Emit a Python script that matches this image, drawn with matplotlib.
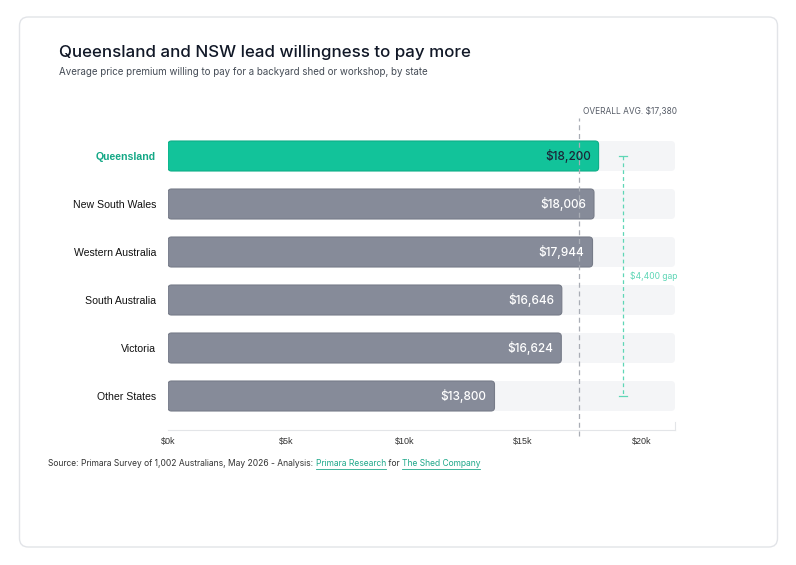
import matplotlib
matplotlib.use("Agg")
import matplotlib.pyplot as plt
from matplotlib.patches import FancyBboxPatch

plt.rcParams['font.family'] = ['Inter', 'DejaVu Sans']
ARIAL = ['Liberation Sans', 'DejaVu Sans']

states = ["Queensland", "New South Wales", "Western Australia", "South Australia", "Victoria", "Other States"]
values = [18200, 18006, 17944, 16646, 16624, 13800]
value_labels = ["$18,200", "$18,006", "$17,944", "$16,646", "$16,624", "$13,800"]
overall_avg = 17380
gap_label = "$4,400 gap"
xticks = [0, 5000, 10000, 15000, 20000]
xtick_labels = ["$0k", "$5k", "$10k", "$15k", "$20k"]
xmax = 21430
gap_x = 19240

GREEN = "#12C39A"
GREEN_EDGE = "#0EAE88"
GRAY = "#868B99"
GRAY_EDGE = "#777C89"
TRACK = "#F4F5F7"
GAPC = "#5ED6B6"
DARK = "#111827"

W, H = 796, 565
fig = plt.figure(figsize=(W / 100, H / 100), dpi=100)
fig.patch.set_facecolor("white")

# card
card = FancyBboxPatch((19.5 / W, 1 - 547 / H), 758 / W, 530 / H,
                      boxstyle="round,pad=0,rounding_size=0.011",
                      mutation_aspect=W / H,
                      transform=fig.transFigure, facecolor="white",
                      edgecolor="#E2E4E8", linewidth=1.0, zorder=-5)
fig.patches.append(card)

ax = fig.add_axes([168 / W, 135 / H, 507 / W, 312 / H])
ax.set_facecolor("none")
ax.set_zorder(2)
n = len(states)
ax.set_xlim(0, xmax)
ax.set_ylim(5.5 + 10 / 48, -0.5 - 14 / 48)

xu = xmax / 507.0  # data units per px (x)
yu = 1 / 48.0      # data units per px (y)
asp = yu / xu
h = 30 / 48

# tracks
tracks = ax.barh(range(n), [xmax] * n, height=h, color="none")
for b in tracks:
    p = FancyBboxPatch((b.get_x(), b.get_y()), b.get_width(), b.get_height(),
                       boxstyle="round,pad=0,rounding_size=%f" % (4 * xu),
                       mutation_aspect=asp, facecolor=TRACK, edgecolor="none", zorder=1)
    ax.add_patch(p)

bars = ax.barh(range(n), values, height=h, color="none")
for i, b in enumerate(bars):
    col = GREEN if i == 0 else GRAY
    ecol = GREEN_EDGE if i == 0 else GRAY_EDGE
    p = FancyBboxPatch((b.get_x(), b.get_y()), b.get_width(), b.get_height(),
                       boxstyle="round,pad=0,rounding_size=%f" % (3.5 * xu),
                       mutation_aspect=asp, facecolor=col, edgecolor=ecol,
                       linewidth=0.8, zorder=2)
    ax.add_patch(p)
    ax.text(values[i] - 8 * xu, i, value_labels[i], ha="right", va="center",
            fontsize=8.5, color=("#1B2638" if i == 0 else "white"),
            fontweight="medium", zorder=4)

# category labels
ax.set_yticks(range(n))
ax.set_yticklabels(states, fontsize=7.6, family=ARIAL)
for i, lab in enumerate(ax.get_yticklabels()):
    if i == 0:
        lab.set_color("#14A886")
        lab.set_fontweight("bold")
    else:
        lab.set_color("#111111")
ax.tick_params(axis="y", length=0, pad=8.5)

ax.set_xticks(xticks)
ax.set_xticklabels(xtick_labels, fontsize=6.5, color="#333333", family=ARIAL)
ax.tick_params(axis="x", length=0, pad=5)

for s in ["top", "left", "right"]:
    ax.spines[s].set_visible(False)
ax.spines["bottom"].set_color("#E3E5E8")
ax.spines["bottom"].set_linewidth(0.8)
ax.plot([xmax, xmax], [5.5 + 10 / 48, 5.5 + 10 / 48 - 8 * yu], color="#E3E5E8", lw=0.8, clip_on=False)

# average line
ax.plot([overall_avg, overall_avg], [5.5 + 16 / 48, -0.5 - 14 / 48], color="#A9ADB5",
        lw=0.9, ls=(0, (4, 3)), zorder=3, clip_on=False)
ax.text(overall_avg + 4 * xu, -0.5 - 21 / 48, "OVERALL AVG. $17,380", fontsize=6,
        color="#555B66", ha="left", va="center")

# gap bracket
ax.plot([gap_x, gap_x], [0, n - 1], color=GAPC, lw=0.9, ls=(0, (3, 2.5)), zorder=3)
for yy in [0, n - 1]:
    ax.plot([gap_x - 4 * xu, gap_x + 4 * xu], [yy, yy], color=GAPC, lw=0.9, zorder=3)
ax.text(gap_x + 7 * xu, 2.5, gap_label, fontsize=6.2, color=GAPC, ha="left", va="center")

# title / subtitle
fig.text(59 / W, 1 - 53 / H, "Queensland and NSW lead willingness to pay more",
         fontsize=12.2, color=DARK, fontweight="medium", ha="left", va="center")
fig.text(59 / W, 1 - 72 / H, "Average price premium willing to pay for a backyard shed or workshop, by state",
         fontsize=7, color="#444B55", ha="left", va="center")

# source line with links
parts = [("Source: Primara Survey of 1,002 Australians, May 2026 - Analysis: ", "#333333", False),
         ("Primara Research", "#1FA88A", True),
         (" for ", "#333333", False),
         ("The Shed Company", "#1FA88A", True)]
FS = 6.1
fig.canvas.draw()
r = fig.canvas.get_renderer()


def text_w(s):
    t1 = fig.text(0, 0, "X" + s + "X", fontsize=FS)
    t2 = fig.text(0, 0, "XX", fontsize=FS)
    w = t1.get_window_extent(renderer=r).width - t2.get_window_extent(renderer=r).width
    t1.remove()
    t2.remove()
    return w


x0 = 48.0
ybase = H - 464
prefix = ""
for txt, col, ul in parts:
    xs = x0 + text_w(prefix)
    t = fig.text(xs / W, ybase / H, txt, fontsize=FS, color=col, ha="left", va="center")
    if ul:
        bb = t.get_window_extent(renderer=r)
        fig.add_artist(plt.Line2D([bb.x0 / W, bb.x1 / W], [(bb.y0 - 0.3) / H] * 2,
                                  transform=fig.transFigure, color=col, lw=0.6))
    prefix += txt

fig.savefig("out.png", dpi=100, facecolor="white")
